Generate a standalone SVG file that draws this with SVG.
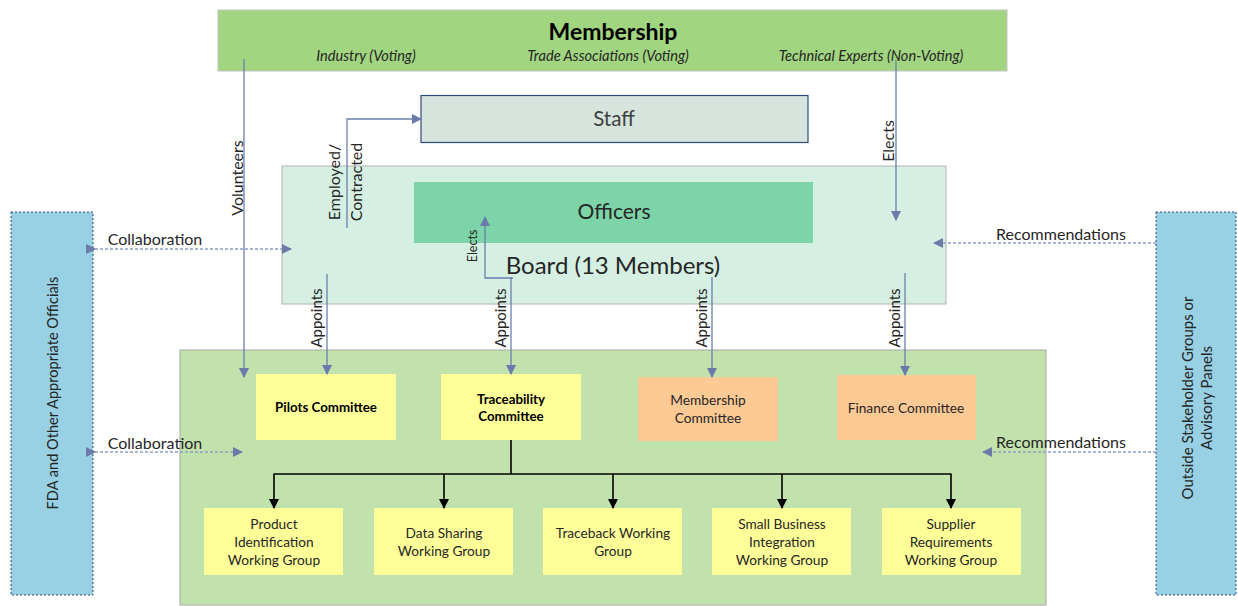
<svg xmlns="http://www.w3.org/2000/svg" width="1238" height="606" viewBox="0 0 1238 606">
<defs>
<marker id="ab" viewBox="0 0 10 10" refX="9" refY="5" markerWidth="10" markerHeight="10" markerUnits="userSpaceOnUse" orient="auto"><path d="M0,0 L10,5 L0,10 z" fill="#6b7aa8"/></marker>
<marker id="ak" viewBox="0 0 10 10" refX="9" refY="5" markerWidth="10" markerHeight="10" markerUnits="userSpaceOnUse" orient="auto"><path d="M0,0 L10,5 L0,10 z" fill="#000"/></marker>
<style>
text{font-family:Lato,"Open Sans","Liberation Sans",sans-serif;fill:#262626}
.c{text-anchor:middle}
.sol{stroke:#6b7fae;stroke-width:1.3;fill:none}
.dash{stroke:#8f9ec5;stroke-width:1.5;fill:none;stroke-dasharray:3,2}
.blk{stroke:#000;stroke-width:1.6;fill:none}
.yel{fill:#ffff99}
.org{fill:#fdc994}
.wg{font-size:13.7px}
.lbl{font-size:16px}
.app{font-size:15px}
.sub{font-size:14.6px;font-style:italic}
.side{fill:#97d1e3;stroke:#2f4b7c;stroke-width:1;stroke-dasharray:2,2}
</style>
</defs>

<g id="membership">
<rect x="218" y="10" width="789" height="61" fill="#a1d57f" stroke="#c4c4c4"/>
<text class="c" x="613" y="40" font-size="23" font-weight="bold" style="fill:#000">Membership</text>
<text class="c sub" x="366" y="61">Industry (Voting)</text>
<text class="c sub" x="608" y="61">Trade Associations (Voting)</text>
<text class="c sub" x="871" y="61">Technical Experts (Non-Voting)</text>
</g>

<g id="staff">
<rect x="421" y="95.5" width="387" height="47" fill="#d7e4de" stroke="#2e4a7a" stroke-width="1.2"/>
<text class="c" x="614" y="126" font-size="20.5" style="fill:#404040">Staff</text>
</g>

<g id="board">
<rect x="282" y="166" width="664" height="138" fill="#d5f0e2" stroke="#b4b4b4"/>
<text class="c" x="613" y="274" font-size="24">Board (13 Members)</text>
</g>

<g id="officers">
<rect x="414" y="182" width="399" height="61" fill="#7dd4a8"/>
<text class="c" x="614" y="219" font-size="21">Officers</text>
</g>

<g id="committees-area">
<rect x="180" y="350" width="866" height="255" fill="#c1e1ad" stroke="#a8a8a8"/>
</g>

<g id="fda">
<rect class="side" x="11" y="212" width="82" height="383"/>
<text class="c" transform="translate(58,393) rotate(-90)" font-size="14.6">FDA and Other Appropriate Officials</text>
</g>

<g id="outside">
<rect class="side" x="1156" y="212" width="80" height="383"/>
<text class="c" transform="translate(1193,398) rotate(-90)" font-size="15">Outside Stakeholder Groups or</text>
<text class="c" transform="translate(1212,398) rotate(-90)" font-size="15">Advisory Panels</text>
</g>

<g id="pilots">
<rect class="yel" x="256" y="374" width="140" height="66"/>
<text class="c" x="326" y="412" font-size="13.3" font-weight="bold" style="fill:#000">Pilots Committee</text>
</g>
<g id="traceability">
<rect class="yel" x="441" y="374" width="140" height="66"/>
<text class="c" x="511" y="404" font-size="13.3" font-weight="bold" style="fill:#000">Traceability</text>
<text class="c" x="511" y="421" font-size="13.3" font-weight="bold" style="fill:#000">Committee</text>
</g>
<g id="membership-committee">
<rect class="org" x="638" y="377" width="140" height="64"/>
<text class="c wg" x="708" y="405">Membership</text>
<text class="c wg" x="708" y="423">Committee</text>
</g>
<g id="finance">
<rect class="org" x="837" y="375" width="139" height="65"/>
<text class="c wg" x="906" y="413">Finance Committee</text>
</g>

<g id="wg-product">
<rect class="yel" x="204" y="508" width="139" height="67"/>
<text class="c wg" x="274" y="529">Product</text>
<text class="c wg" x="274" y="547">Identification</text>
<text class="c wg" x="274" y="565">Working Group</text>
</g>
<g id="wg-data">
<rect class="yel" x="374" y="508" width="139" height="67"/>
<text class="c wg" x="444" y="538">Data Sharing</text>
<text class="c wg" x="444" y="556">Working Group</text>
</g>
<g id="wg-traceback">
<rect class="yel" x="543" y="508" width="139" height="67"/>
<text class="c wg" x="613" y="538">Traceback Working</text>
<text class="c wg" x="613" y="556">Group</text>
</g>
<g id="wg-small">
<rect class="yel" x="712" y="508" width="139" height="67"/>
<text class="c wg" x="782" y="529">Small Business</text>
<text class="c wg" x="782" y="547">Integration</text>
<text class="c wg" x="782" y="565">Working Group</text>
</g>
<g id="wg-supplier">
<rect class="yel" x="882" y="508" width="139" height="67"/>
<text class="c wg" x="951" y="529">Supplier</text>
<text class="c wg" x="951" y="547">Requirements</text>
<text class="c wg" x="951" y="565">Working Group</text>
</g>

<g id="connectors">
<!-- Volunteers -->
<line class="sol" x1="244" y1="59" x2="244" y2="377" marker-end="url(#ab)"/>
<text class="c lbl" transform="translate(243,178) rotate(-90)">Volunteers</text>
<!-- Employed/Contracted -->
<polyline class="sol" points="347,228 347,119 421,119" marker-end="url(#ab)"/>
<text class="c lbl" transform="translate(340,182) rotate(-90)">Employed/</text>
<text class="c lbl" transform="translate(362,182) rotate(-90)">Contracted</text>
<!-- Elects (membership to board) -->
<line class="sol" x1="896" y1="60" x2="896" y2="220" marker-end="url(#ab)"/>
<text class="c lbl" transform="translate(894,141) rotate(-90)">Elects</text>
<!-- Elects (board to officers) -->
<polyline class="sol" points="513,278 485,278 485,217" marker-end="url(#ab)"/>
<text class="c" transform="translate(477,246) rotate(-90)" font-size="12.5">Elects</text>
<!-- Appoints -->
<line class="sol" x1="327" y1="274" x2="327" y2="374" marker-end="url(#ab)"/>
<text class="c app" transform="translate(322,318) rotate(-90)">Appoints</text>
<line class="sol" x1="511" y1="277" x2="511" y2="374" marker-end="url(#ab)"/>
<text class="c app" transform="translate(506,318) rotate(-90)">Appoints</text>
<line class="sol" x1="712" y1="277" x2="712" y2="377" marker-end="url(#ab)"/>
<text class="c app" transform="translate(707,318) rotate(-90)">Appoints</text>
<line class="sol" x1="905" y1="273" x2="905" y2="375" marker-end="url(#ab)"/>
<text class="c app" transform="translate(900,318) rotate(-90)">Appoints</text>
<!-- Collaboration -->
<line class="dash" x1="95" y1="249" x2="291" y2="249" marker-start="url(#ab)" marker-end="url(#ab)"/>
<text class="c lbl" x="155" y="245">Collaboration</text>
<line class="dash" x1="95" y1="452" x2="242" y2="452" marker-start="url(#ab)" marker-end="url(#ab)"/>
<text class="c lbl" x="155" y="449">Collaboration</text>
<!-- Recommendations -->
<line class="dash" x1="1156" y1="243" x2="934" y2="243" marker-end="url(#ab)"/>
<text class="c lbl" x="1061" y="240">Recommendations</text>
<line class="dash" x1="1156" y1="452" x2="983" y2="452" marker-end="url(#ab)"/>
<text class="c lbl" x="1061" y="448">Recommendations</text>
<!-- Traceability tree -->
<polyline class="blk" points="511,440 511,474"/>
<line class="blk" x1="273.5" y1="474" x2="951.5" y2="474"/>
<line class="blk" x1="274" y1="474" x2="274" y2="508" marker-end="url(#ak)"/>
<line class="blk" x1="444" y1="474" x2="444" y2="508" marker-end="url(#ak)"/>
<line class="blk" x1="613" y1="474" x2="613" y2="508" marker-end="url(#ak)"/>
<line class="blk" x1="782" y1="474" x2="782" y2="508" marker-end="url(#ak)"/>
<line class="blk" x1="951" y1="474" x2="951" y2="508" marker-end="url(#ak)"/>
</g>
</svg>
